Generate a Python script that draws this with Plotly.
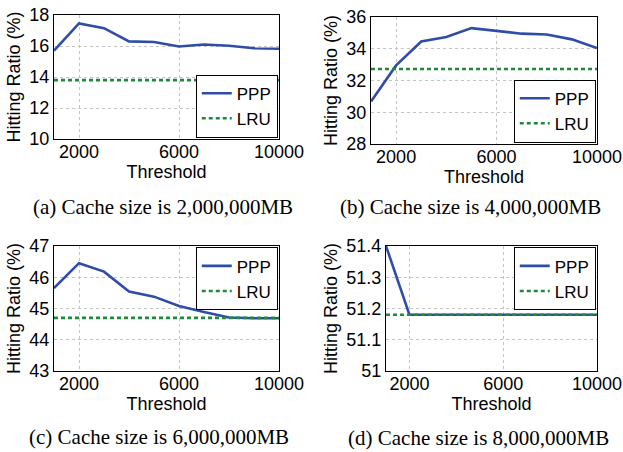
import plotly.graph_objects as go

threshold = [1000, 2000, 3000, 4000, 5000, 6000, 7000, 8000, 9000, 10000]

ppp_a = [15.70, 17.46, 17.15, 16.30, 16.26, 15.97, 16.10, 16.02, 15.85, 15.82]
lru_a = [13.80] * 10
ppp_b = [30.67, 32.95, 34.46, 34.74, 35.30, 35.14, 34.95, 34.90, 34.59, 34.04]
lru_b = [32.72] * 10
ppp_c = [45.65, 46.45, 46.18, 45.54, 45.38, 45.08, 44.89, 44.71, 44.69, 44.69]
lru_c = [44.70] * 10
ppp_d = [51.40, 51.18, 51.18, 51.18, 51.18, 51.18, 51.18, 51.18, 51.18, 51.18]
lru_d = [51.18] * 10

x_tickvals = [2000, 6000, 10000]
x_ticktext = ["2000", "6000", "10000"]
y_ticks_a = [10, 12, 14, 16, 18]
y_ticks_b = [28, 30, 32, 34, 36]
y_ticks_c = [43, 44, 45, 46, 47]
y_ticks_d = [51.0, 51.1, 51.2, 51.3, 51.4]
y_ticktext_d = ["51", "51.1", "51.2", "51.3", "51.4"]

captions = ["(a) Cache size is 2,000,000MB", "(b) Cache size is 4,000,000MB",
            "(c) Cache size is 6,000,000MB", "(d) Cache size is 8,000,000MB"]

W, H = 623, 452
BLUE = "#2F4DA6"
GREEN = "#1F8A3C"
SANS = "Liberation Sans, Arial, sans-serif"
SERIF = "Liberation Serif, Times New Roman, serif"

# pixel boxes of each plot area: (left, right, top, bottom)
boxes = [(54, 279, 15, 139), (371, 597, 17, 144), (54, 279, 246, 371), (386, 597, 246, 371)]
ppp_all = [ppp_a, ppp_b, ppp_c, ppp_d]
lru_all = [lru_a, lru_b, lru_c, lru_d]
yt_all = [y_ticks_a, y_ticks_b, y_ticks_c, y_ticks_d]
ytt_all = [[str(v) for v in y_ticks_a], [str(v) for v in y_ticks_b],
           [str(v) for v in y_ticks_c], y_ticktext_d]
legend_pos = ["bottom", "bottom", "top", "top"]
cap_pos = [(163, 207), (470, 207), (159, 437), (478, 438)]

fig = go.Figure()
layout = dict(width=W, height=H, margin=dict(l=0, r=0, t=0, b=0, autoexpand=False),
              paper_bgcolor="white", plot_bgcolor="white",
              font=dict(family=SANS, size=18, color="black"), annotations=[])

for i in range(4):
    n = "" if i == 0 else str(i + 1)
    lg = "legend" if i == 0 else "legend%d" % (i + 1)
    l, r, t, b = boxes[i]
    fig.add_trace(go.Scatter(x=threshold, y=ppp_all[i], mode="lines", name="PPP",
                             line=dict(color=BLUE, width=2.6), xaxis="x" + n, yaxis="y" + n,
                             legend=lg))
    fig.add_trace(go.Scatter(x=threshold, y=lru_all[i], mode="lines", name="LRU",
                             line=dict(color=GREEN, width=2.6, dash="4px,3px"),
                             xaxis="x" + n, yaxis="y" + n, legend=lg))
    yt = yt_all[i]
    layout["xaxis" + n] = dict(domain=[l / W, r / W], anchor="y" + n, range=[1000, 10000],
                               tickvals=x_tickvals, ticktext=x_ticktext, automargin=False,
                               showline=True, mirror=True, linecolor="black", linewidth=1,
                               showgrid=True, gridcolor="#c4c4c4", griddash="dot", gridwidth=1,
                               zeroline=False, ticks="", tickfont=dict(size=18),
                               ticklabelstandoff=-4,
                               title=dict(text="Threshold", standoff=0, font=dict(size=18)))
    layout["yaxis" + n] = dict(domain=[1 - b / H, 1 - t / H], anchor="x" + n,
                               range=[yt[0], yt[-1]], tickvals=yt, ticktext=ytt_all[i],
                               automargin=False,
                               showline=True, mirror=True, linecolor="black", linewidth=1,
                               showgrid=True, gridcolor="#c4c4c4", griddash="dot", gridwidth=1,
                               zeroline=False, ticks="", tickfont=dict(size=18),
                               title=dict(text="Hitting Ratio (%)", standoff=4, font=dict(size=18)))
    if legend_pos[i] == "bottom":
        ly, lya = 1 - b / H + 0.003, "bottom"
    else:
        ly, lya = 1 - t / H - 0.003, "top"
    layout[lg] = dict(x=r / W - 0.002, xanchor="right", y=ly, yanchor=lya,
                      bgcolor="white", bordercolor="black", borderwidth=1,
                      font=dict(size=17, family=SANS), itemwidth=30,
                      tracegroupgap=0, traceorder="normal")
    cx, cy = cap_pos[i]
    layout["annotations"].append(dict(text=captions[i], x=cx / W, y=1 - cy / H,
                                      xref="paper", yref="paper", showarrow=False,
                                      xanchor="center", yanchor="middle",
                                      font=dict(family=SERIF, size=21, color="black")))

fig.update_layout(**layout)
fig.write_html("out.html", config={"displayModeBar": False},
               post_script="document.body.style.margin='0px';document.body.style.overflow='hidden';")
